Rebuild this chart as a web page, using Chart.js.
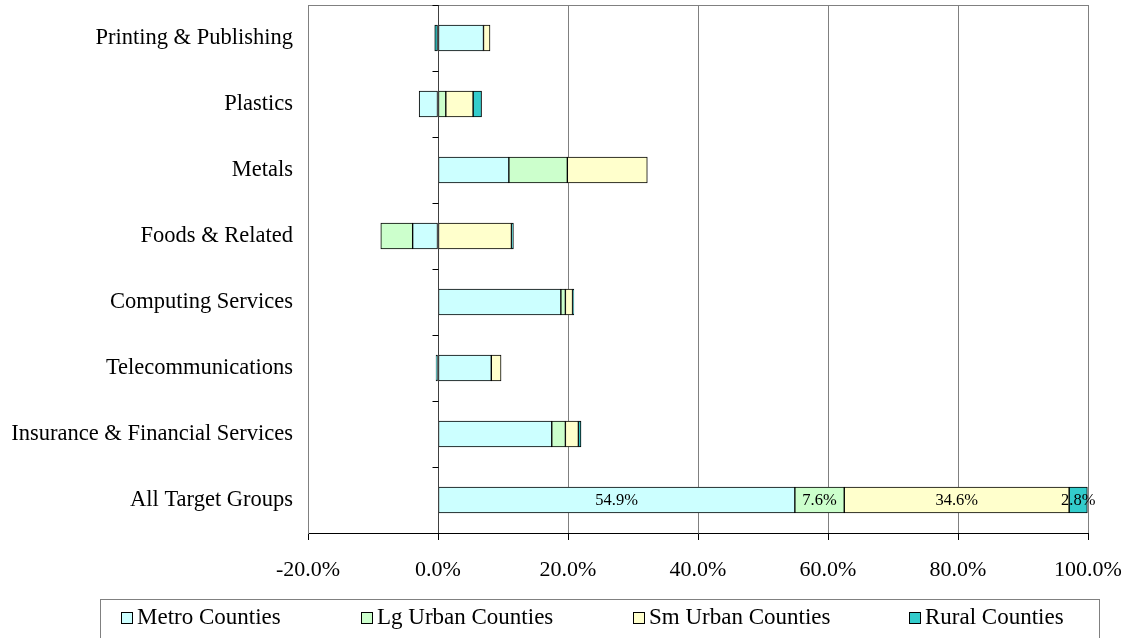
<!DOCTYPE html>
<html>
<head>
<meta charset="utf-8">
<script src="https://cdn.jsdelivr.net/npm/chart.js@4/dist/chart.umd.min.js"></script>
<style>
html,body{margin:0;padding:0;background:#fff;}
#wrap{width:1125px;height:638px;position:relative;}
</style>
</head>
<body>
<div id="wrap"><canvas id="c" width="1125" height="638"></canvas></div>
<script>
const categories = ["Printing & Publishing","Plastics","Metals","Foods & Related","Computing Services","Telecommunications","Insurance & Financial Services","All Target Groups"];
const seriesNames = ["Metro Counties","Lg Urban Counties","Sm Urban Counties","Rural Counties"];
const metro = [7.0, -2.9, 10.9, -3.9, 18.9, 8.2, 17.5, 54.9];
const lgUrban = [null, 1.2, 9.0, -4.9, 0.7, null, 2.1, 7.6];
const smUrban = [1.0, 4.2, 12.3, 11.3, 1.1, 1.5, 2.0, 34.6];
const rural = [-0.5, 1.3, null, 0.3, 0.2, -0.3, 0.4, 2.8];
const xTicks = [-20, 0, 20, 40, 60, 80, 100];
const labelledCategory = "All Target Groups";

const colors = ["#CCFFFF","#CCFFCC","#FFFFCC","#33CCCC"];
const FONT = "'Liberation Serif', 'Times New Roman', serif";
Chart.defaults.font.family = FONT;
Chart.defaults.color = "#000";

const allSeries = [metro, lgUrban, smUrban, rural];

const decorPlugin = {
  id: 'decor',
  afterDatasetsDraw(chart) {
    const ctx = chart.ctx, a = chart.chartArea;
    const xs = chart.scales.x;
    ctx.save();
    ctx.strokeStyle = '#808080';
    ctx.lineWidth = 1;
    ctx.beginPath();
    ctx.moveTo(a.left + 0.5, a.top + 0.5);
    ctx.lineTo(a.right + 0.5, a.top + 0.5);
    ctx.lineTo(a.right + 0.5, a.bottom);
    ctx.stroke();
    const x0 = Math.round(xs.getPixelForValue(0)) + 0.5;
    ctx.strokeStyle = '#404040';
    ctx.beginPath();
    ctx.moveTo(x0, a.top);
    ctx.lineTo(x0, a.bottom);
    ctx.stroke();
    ctx.strokeStyle = '#000';
    const n = categories.length;
    const step = (a.bottom - a.top) / n;
    ctx.beginPath();
    for (let i = 0; i <= n; i++) {
      const y = Math.round(a.top + i * step) + 0.5;
      ctx.moveTo(x0 - 6, y);
      ctx.lineTo(x0, y);
    }
    ctx.stroke();
    const idx = categories.indexOf(labelledCategory);
    ctx.font = "16.5px " + FONT;
    ctx.fillStyle = '#000';
    ctx.textAlign = 'center';
    ctx.textBaseline = 'middle';
    chart.data.datasets.forEach((ds, di) => {
      const meta = chart.getDatasetMeta(di);
      const el = meta.data[idx];
      if (!el || ds.data[idx] == null) return;
      const cx = (el.x + el.base) / 2;
      ctx.fillText(ds.data[idx].toFixed(1) + '%', cx, el.y + 1);
    });
    ctx.restore();
  },
  afterDraw(chart) {
    const ctx = chart.ctx;
    ctx.save();
    ctx.strokeStyle = '#808080';
    ctx.lineWidth = 1;
    ctx.strokeRect(100.5, 599.5, 999, 40);
    const sq = [121, 361, 633, 909];
    ctx.font = "23px " + FONT;
    ctx.textBaseline = 'middle';
    ctx.textAlign = 'left';
    seriesNames.forEach((name, i) => {
      ctx.fillStyle = colors[i];
      ctx.fillRect(sq[i] + 0.5, 612.5, 11, 11);
      ctx.strokeStyle = '#000';
      ctx.strokeRect(sq[i] + 0.5, 612.5, 11, 11);
      ctx.fillStyle = '#000';
      ctx.fillText(name, sq[i] + 16, 618);
    });
    ctx.restore();
  }
};

new Chart(document.getElementById('c'), {
  type: 'bar',
  data: {
    labels: categories,
    datasets: allSeries.map((d, i) => ({
      label: seriesNames[i],
      data: d,
      backgroundColor: colors[i],
      borderColor: '#000',
      borderWidth: 1,
      borderSkipped: false,
      barThickness: 26
    }))
  },
  options: {
    indexAxis: 'y',
    responsive: false,
    animation: false,
    devicePixelRatio: 1,
    layout: { padding: { top: 5, right: 37, left: 0, bottom: 0 } },
    plugins: { legend: { display: false }, tooltip: { enabled: false } },
    scales: {
      x: {
        stacked: true,
        min: -20, max: 100,
        afterBuildTicks(s) { s.ticks = xTicks.map(v => ({ value: v })); },
        ticks: { callback: v => Number(v).toFixed(1) + '%', color: '#000', padding: 17, font: { size: 22 }, maxRotation: 0 },
        grid: { color: '#808080', tickColor: '#000', tickLength: 7, lineWidth: 1 },
        border: { color: '#000' },
        afterFit(s) { s.height = 105; s.paddingLeft = 0; s.paddingRight = 0; }
      },
      y: {
        stacked: true,
        grid: { display: false, drawTicks: false },
        border: { display: true, color: '#808080' },
        ticks: { color: '#000', padding: 15, font: { size: 22.5 } },
        afterFit(s) { s.width = 308; s.paddingTop = 0; s.paddingBottom = 0; }
      }
    }
  },
  plugins: [decorPlugin]
});
</script>
</body>
</html>
